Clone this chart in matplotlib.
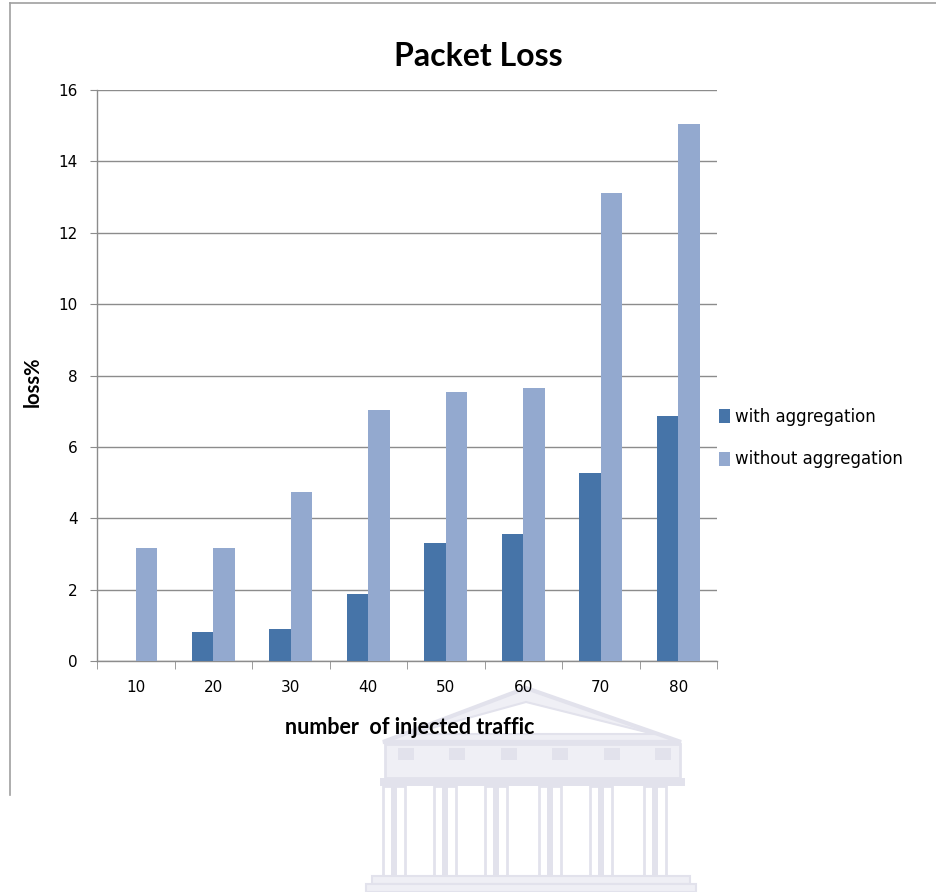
"""
Packet loss vs. number of injected traffic, with / without aggregation.
Excel-style clustered bar chart.
"""

import matplotlib
matplotlib.use("Agg")
import matplotlib.pyplot as plt
from matplotlib.patches import Polygon, Rectangle
import numpy as np

# data
traffic = ["10", "20", "30", "40", "50", "60", "70", "80"]
with_agg = [0.0, 0.8, 0.9, 1.87, 3.32, 3.57, 5.26, 6.87]
without_agg = [3.18, 3.18, 4.74, 7.02, 7.55, 7.65, 13.1, 15.04]
series_labels = ["with aggregation", "without aggregation"]
yticks = [0, 2, 4, 6, 8, 10, 12, 14, 16]

DARK = "#4674A8"
LIGHT = "#93A9CF"
GRID = "#8C8C8C"

W, H = 937, 892
fig = plt.figure(figsize=(W / 100, H / 100), dpi=100)


def px(x, y):
    # image pixel coords -> figure fraction
    return x / W, 1 - y / H


# faint watermark (building logo) behind everything
wm_edge = "#E2E2EC"
wm_fill = "#EFEFF5"
bg = fig.add_axes([0, 0, 1, 1], zorder=-5)
bg.set_xlim(0, W)
bg.set_ylim(H, 0)
bg.axis("off")
bg.add_patch(Polygon([(383, 742), (526, 688), (681, 742)], closed=True,
                     facecolor=wm_fill, edgecolor=wm_edge, lw=3))
bg.add_patch(Polygon([(410, 734), (526, 702), (654, 734)], closed=True,
                     facecolor="white", edgecolor=wm_edge, lw=1.5))
bg.add_patch(Rectangle((385, 744), 295, 34, facecolor=wm_fill,
                       edgecolor=wm_edge, lw=2))
for sx in np.linspace(398, 655, 6):
    bg.add_patch(Rectangle((sx, 748), 16, 12, facecolor=wm_edge, lw=0))
bg.add_patch(Rectangle((380, 778), 305, 8, facecolor=wm_edge, lw=0))
for cx in [394, 445, 496, 550, 601, 655]:
    bg.add_patch(Rectangle((cx - 11, 786), 22, 92, facecolor="white",
                           edgecolor=wm_edge, lw=2))
    bg.add_patch(Rectangle((cx - 3, 786), 6, 92, facecolor=wm_edge, lw=0))
bg.add_patch(Rectangle((372, 876), 318, 8, facecolor=wm_fill,
                       edgecolor=wm_edge, lw=1.5))
bg.add_patch(Rectangle((366, 884), 330, 8, facecolor=wm_fill,
                       edgecolor=wm_edge, lw=1.5))

# chart area border (top and left edges visible)
bg.plot([10, W], [3, 3], color="#A0A0A0", lw=1.2)
bg.plot([10, 10], [3, 795], color="#A0A0A0", lw=1.2)

# plot area
l, b = px(97, 661)
ax = fig.add_axes([l, b, 620 / W, 571 / H])
ax.patch.set_alpha(0)

x = np.arange(len(traffic))
bw = 0.28
ax.bar(x - bw / 2, with_agg, bw, color=DARK, label=series_labels[0], zorder=3)
ax.bar(x + bw / 2, without_agg, bw, color=LIGHT, label=series_labels[1], zorder=3)

ax.set_xlim(-0.5, len(traffic) - 0.5)
ax.set_ylim(0, 16)
ax.set_yticks(yticks)
ax.set_yticklabels([str(v) for v in yticks], fontsize=11)
ax.yaxis.grid(True, color=GRID, lw=1)
ax.set_axisbelow(True)

ax.set_xticks(x)
ax.set_xticklabels(traffic, fontsize=11)
ax.set_xticks(np.arange(-0.5, len(traffic)), minor=True)
ax.tick_params(axis="x", which="major", length=0, pad=14)
ax.tick_params(axis="x", which="minor", length=6, color=GRID)
ax.tick_params(axis="y", length=5, color=GRID, pad=9)

for s in ["top", "right"]:
    ax.spines[s].set_visible(False)
for s in ["left", "bottom"]:
    ax.spines[s].set_color(GRID)
    ax.spines[s].set_linewidth(1)

tx, ty = px(478, 56)
fig.text(tx, ty, "Packet Loss", ha="center", va="center",
         fontsize=23, fontweight="bold", family="Lato")
lx, ly = px(410, 727)
fig.text(lx, ly, "number  of injected traffic", ha="center", va="center",
         fontsize=15.5, fontweight="bold", family="Lato")
yx, yy = px(33, 382)
fig.text(yx, yy, "loss%", ha="center", va="center", rotation=90,
         fontsize=14.5, fontweight="bold", family="Lato")

lgx, lgy = px(712, 438)
fig.legend(loc="center left", bbox_to_anchor=(lgx, lgy), frameon=False,
           fontsize=12, handlelength=0.7, handleheight=0.9,
           handletextpad=0.3, labelspacing=1.5, borderaxespad=0)

fig.savefig("out.png", dpi=100)
